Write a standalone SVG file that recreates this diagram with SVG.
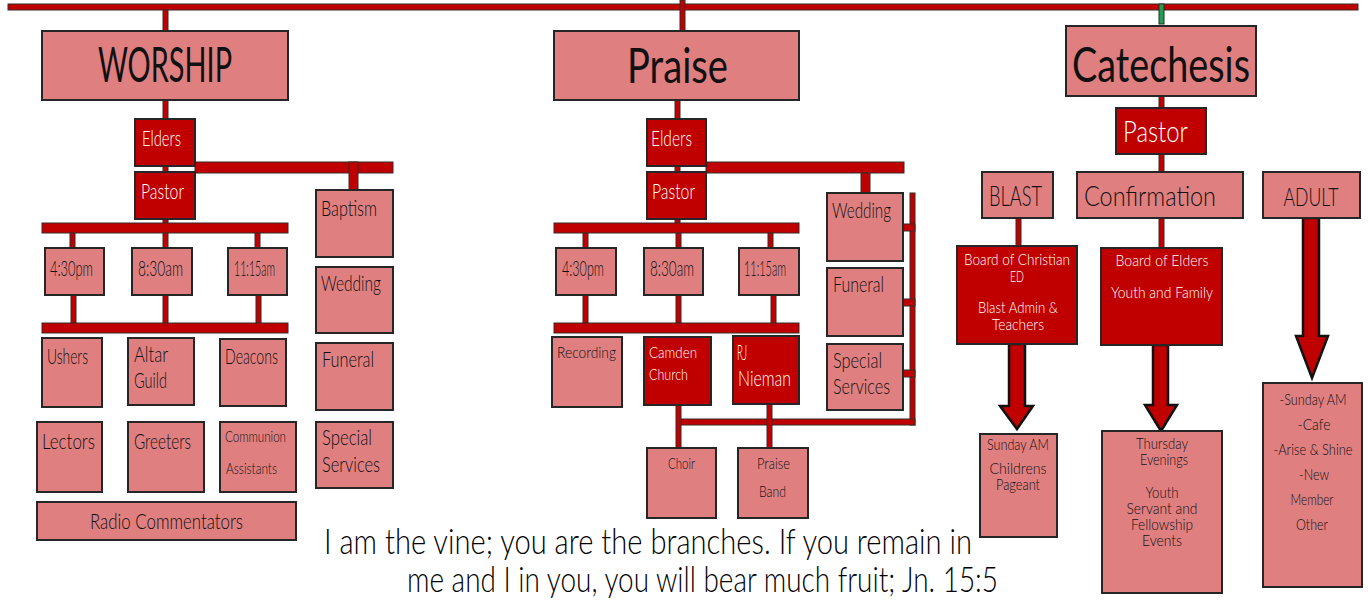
<svg xmlns="http://www.w3.org/2000/svg" width="1368" height="602" viewBox="0 0 1368 602">
<style>
.pink{fill:#df7f80;stroke:#262626;stroke-width:2}
.dark{fill:#c00000;stroke:#262626;stroke-width:2}
.bar{fill:#c00000;stroke:#3a2a2a;stroke-width:1}
.green{fill:#1fa050;stroke:#2a2a2a;stroke-width:1}
.arrow{fill:#c00000;stroke:#111;stroke-width:2.5;stroke-linejoin:miter}
text{font-family:'Lato','Liberation Sans',sans-serif;font-weight:300;fill:#111}
.t{font-size:22px}
.w{fill:#fff}
.s{font-size:16px}
.c{font-size:15px;text-anchor:middle}
.big{font-size:48px;font-weight:400}
.q{font-size:35px;fill:#000}
</style>
<rect width="1368" height="602" fill="#fff"/>
<g id="connectors">
<rect class="bar" x="8" y="4" width="1350" height="6"/>
<rect class="bar" x="163" y="10" width="5" height="21"/>
<rect class="bar" x="680" y="0" width="5" height="31"/>
<rect class="green" x="1159" y="4" width="5" height="20"/>
<rect class="bar" x="163" y="100" width="5" height="19"/>
<rect class="bar" x="163" y="166" width="5" height="6"/>
<rect class="bar" x="163" y="219" width="5" height="4"/>
<rect class="bar" x="195" y="162" width="198" height="11"/>
<rect class="bar" x="349" y="162" width="9" height="28"/>
<rect class="bar" x="42" y="223" width="246" height="10"/>
<rect class="bar" x="70" y="233" width="5" height="15"/>
<rect class="bar" x="163" y="233" width="5" height="15"/>
<rect class="bar" x="255" y="233" width="5" height="15"/>
<rect class="bar" x="71" y="295" width="5" height="28"/>
<rect class="bar" x="163" y="295" width="5" height="28"/>
<rect class="bar" x="256" y="295" width="5" height="28"/>
<rect class="bar" x="42" y="323" width="246" height="10"/>
<rect class="bar" x="675" y="100" width="5" height="19"/>
<rect class="bar" x="675" y="166" width="5" height="6"/>
<rect class="bar" x="675" y="219" width="5" height="4"/>
<rect class="bar" x="706" y="162" width="198" height="11"/>
<rect class="bar" x="861" y="173" width="9" height="20"/>
<rect class="bar" x="554" y="223" width="245" height="10"/>
<rect class="bar" x="583" y="233" width="5" height="15"/>
<rect class="bar" x="676" y="233" width="5" height="15"/>
<rect class="bar" x="768" y="233" width="5" height="15"/>
<rect class="bar" x="583" y="295" width="5" height="28"/>
<rect class="bar" x="676" y="295" width="5" height="28"/>
<rect class="bar" x="771" y="295" width="5" height="28"/>
<rect class="bar" x="554" y="323" width="245" height="10"/>
<rect class="bar" x="910" y="193" width="5" height="232"/>
<rect class="bar" x="899" y="224" width="16" height="7"/>
<rect class="bar" x="899" y="299" width="16" height="7"/>
<rect class="bar" x="899" y="370" width="16" height="7"/>
<rect class="bar" x="677" y="419" width="238" height="6"/>
<rect class="bar" x="676" y="405" width="5" height="43"/>
<rect class="bar" x="767" y="404" width="5" height="44"/>
<rect class="bar" x="1159" y="96" width="5" height="12"/>
<rect class="bar" x="1159" y="154" width="5" height="18"/>
<rect class="bar" x="1159" y="218" width="5" height="30"/>
<rect class="bar" x="1016" y="218" width="5" height="28"/>
<polygon class="arrow" points="1009,344 1025,344 1025,406 1033,406 1017,429 1000,406 1009,406"/>
<polygon class="arrow" points="1153,345 1168,345 1168,405 1177,405 1161,431 1145,405 1153,405"/>
<polygon class="arrow" points="1303,218 1319,218 1319,336 1328,336 1312,378 1296,336 1303,336"/>
</g>
<g id="worship">
<rect class="pink" x="42" y="31" width="246" height="69"/>
<text class="big" x="98" y="82" lengthAdjust="spacingAndGlyphs" textLength="134">WORSHIP</text>
</g>
<g id="w-elders"><rect class="dark" x="135" y="119" width="60" height="47"/><text class="t w" x="142" y="146" lengthAdjust="spacingAndGlyphs" textLength="39">Elders</text></g>
<g id="w-pastor"><rect class="dark" x="135" y="172" width="60" height="47"/><text class="t w" x="141" y="199" lengthAdjust="spacingAndGlyphs" textLength="43">Pastor</text></g>
<g id="w-430"><rect class="pink" x="45" y="248" width="59" height="47"/><text class="t" x="50" y="276" lengthAdjust="spacingAndGlyphs" textLength="43">4:30pm</text></g>
<g id="w-830"><rect class="pink" x="132" y="248" width="60" height="47"/><text class="t" x="138" y="276" lengthAdjust="spacingAndGlyphs" textLength="45">8:30am</text></g>
<g id="w-1115"><rect class="pink" x="228" y="248" width="59" height="47"/><text class="t" x="234" y="276" lengthAdjust="spacingAndGlyphs" textLength="41">11:15am</text></g>
<g id="w-ushers"><rect class="pink" x="42" y="338" width="60" height="69"/><text class="t" x="47" y="364" lengthAdjust="spacingAndGlyphs" textLength="41">Ushers</text></g>
<g id="w-altar"><rect class="pink" x="128" y="338" width="66" height="67"/><text class="t" x="134" y="362" lengthAdjust="spacingAndGlyphs" textLength="34">Altar</text><text class="t" x="134" y="388" lengthAdjust="spacingAndGlyphs" textLength="33">Guild</text></g>
<g id="w-deacons"><rect class="pink" x="220" y="339" width="66" height="67"/><text class="t" x="225" y="364" lengthAdjust="spacingAndGlyphs" textLength="53">Deacons</text></g>
<g id="w-lectors"><rect class="pink" x="37" y="422" width="65" height="70"/><text class="t" x="42" y="449" lengthAdjust="spacingAndGlyphs" textLength="53">Lectors</text></g>
<g id="w-greeters"><rect class="pink" x="128" y="422" width="76" height="70"/><text class="t" x="134" y="449" lengthAdjust="spacingAndGlyphs" textLength="57">Greeters</text></g>
<g id="w-communion"><rect class="pink" x="220" y="422" width="76" height="70"/><text class="s" x="225" y="442" lengthAdjust="spacingAndGlyphs" textLength="61">Communion</text><text class="s" x="226" y="474" lengthAdjust="spacingAndGlyphs" textLength="51">Assistants</text></g>
<g id="w-radio"><rect class="pink" x="37" y="502" width="259" height="38"/><text class="t" x="90" y="529" lengthAdjust="spacingAndGlyphs" textLength="153">Radio Commentators</text></g>
<g id="w-baptism"><rect class="pink" x="316" y="190" width="77" height="67"/><text class="t" x="321" y="216" lengthAdjust="spacingAndGlyphs" textLength="56">Baptism</text></g>
<g id="w-wedding"><rect class="pink" x="316" y="267" width="77" height="66"/><text class="t" x="321" y="291" lengthAdjust="spacingAndGlyphs" textLength="60">Wedding</text></g>
<g id="w-funeral"><rect class="pink" x="316" y="343" width="77" height="67"/><text class="t" x="322" y="367" lengthAdjust="spacingAndGlyphs" textLength="52">Funeral</text></g>
<g id="w-special"><rect class="pink" x="316" y="422" width="77" height="66"/><text class="t" x="322" y="445" lengthAdjust="spacingAndGlyphs" textLength="50">Special</text><text class="t" x="322" y="472" lengthAdjust="spacingAndGlyphs" textLength="58">Services</text></g>

<g id="praise">
<rect class="pink" x="554" y="31" width="245" height="69"/>
<text class="big" x="627" y="83" lengthAdjust="spacingAndGlyphs" textLength="101">Praise</text>
</g>
<g id="p-elders"><rect class="dark" x="647" y="119" width="59" height="47"/><text class="t w" x="651" y="146" lengthAdjust="spacingAndGlyphs" textLength="41">Elders</text></g>
<g id="p-pastor"><rect class="dark" x="647" y="172" width="59" height="47"/><text class="t w" x="652" y="199" lengthAdjust="spacingAndGlyphs" textLength="43">Pastor</text></g>
<g id="p-430"><rect class="pink" x="556" y="248" width="60" height="47"/><text class="t" x="562" y="276" lengthAdjust="spacingAndGlyphs" textLength="42">4:30pm</text></g>
<g id="p-830"><rect class="pink" x="644" y="248" width="59" height="47"/><text class="t" x="650" y="276" lengthAdjust="spacingAndGlyphs" textLength="44">8:30am</text></g>
<g id="p-1115"><rect class="pink" x="739" y="248" width="60" height="47"/><text class="t" x="744" y="276" lengthAdjust="spacingAndGlyphs" textLength="42">11:15am</text></g>
<g id="p-recording"><rect class="pink" x="552" y="337" width="70" height="70"/><text class="s" x="557" y="358" lengthAdjust="spacingAndGlyphs" textLength="59">Recording</text></g>
<g id="p-camden"><rect class="dark" x="644" y="337" width="67" height="68"/><text class="s w" x="649" y="358" lengthAdjust="spacingAndGlyphs" textLength="48">Camden</text><text class="s w" x="649" y="380" lengthAdjust="spacingAndGlyphs" textLength="39">Church</text></g>
<g id="p-rj"><rect class="dark" x="733" y="336" width="66" height="68"/><text class="t w" x="737" y="360" lengthAdjust="spacingAndGlyphs" textLength="10">RJ</text><text class="t w" x="738" y="386" lengthAdjust="spacingAndGlyphs" textLength="53">Nieman</text></g>
<g id="p-choir"><rect class="pink" x="647" y="448" width="69" height="70"/><text class="s" x="668" y="469" lengthAdjust="spacingAndGlyphs" textLength="27">Choir</text></g>
<g id="p-band"><rect class="pink" x="738" y="448" width="70" height="70"/><text class="s" x="757" y="469" lengthAdjust="spacingAndGlyphs" textLength="33">Praise</text><text class="s" x="759" y="497" lengthAdjust="spacingAndGlyphs" textLength="27">Band</text></g>
<g id="p-wedding"><rect class="pink" x="827" y="193" width="76" height="68"/><text class="t" x="832" y="218" lengthAdjust="spacingAndGlyphs" textLength="59">Wedding</text></g>
<g id="p-funeral"><rect class="pink" x="827" y="268" width="76" height="68"/><text class="t" x="833" y="292" lengthAdjust="spacingAndGlyphs" textLength="51">Funeral</text></g>
<g id="p-special"><rect class="pink" x="827" y="344" width="76" height="66"/><text class="t" x="833" y="368" lengthAdjust="spacingAndGlyphs" textLength="49">Special</text><text class="t" x="833" y="394" lengthAdjust="spacingAndGlyphs" textLength="57">Services</text></g>

<g id="catechesis">
<rect class="pink" x="1066" y="26" width="190" height="70"/>
<text class="big" x="1072" y="82" lengthAdjust="spacingAndGlyphs" textLength="178">Catechesis</text>
</g>
<g id="c-pastor"><rect class="dark" x="1116" y="108" width="90" height="46"/><text class="w" style="font-size:30px" x="1123" y="142" lengthAdjust="spacingAndGlyphs" textLength="65">Pastor</text></g>
<g id="c-blast"><rect class="pink" x="982" y="172" width="71" height="46"/><text style="font-size:27px" x="989" y="206" lengthAdjust="spacingAndGlyphs" textLength="53">BLAST</text></g>
<g id="c-confirmation"><rect class="pink" x="1077" y="172" width="166" height="46"/><text style="font-size:28px" x="1084" y="206" lengthAdjust="spacingAndGlyphs" textLength="132">Confirmation</text></g>
<g id="c-adult"><rect class="pink" x="1263" y="172" width="97" height="46"/><text style="font-size:26px;text-anchor:middle" x="1311" y="206" lengthAdjust="spacingAndGlyphs" textLength="55">ADULT</text></g>
<g id="c-board-ced"><rect class="dark" x="957" y="246" width="120" height="98"/>
<text class="c w" x="1017" y="265" lengthAdjust="spacingAndGlyphs" textLength="106">Board of Christian</text>
<text class="c w" x="1017" y="282" lengthAdjust="spacingAndGlyphs" textLength="14">ED</text>
<text class="c w" x="1018" y="313" lengthAdjust="spacingAndGlyphs" textLength="80">Blast Admin &amp;</text>
<text class="c w" x="1018" y="330" lengthAdjust="spacingAndGlyphs" textLength="52">Teachers</text></g>
<g id="c-board-elders"><rect class="dark" x="1101" y="248" width="121" height="97"/>
<text class="c w" x="1162" y="266" lengthAdjust="spacingAndGlyphs" textLength="93">Board of Elders</text>
<text class="c w" x="1162" y="298" lengthAdjust="spacingAndGlyphs" textLength="102">Youth and Family</text></g>
<g id="c-sunday"><rect class="pink" x="980" y="434" width="77" height="103"/>
<text class="c" x="1018" y="450" lengthAdjust="spacingAndGlyphs" textLength="62">Sunday AM</text>
<text class="c" x="1018" y="474" lengthAdjust="spacingAndGlyphs" textLength="57">Childrens</text>
<text class="c" x="1018" y="490" lengthAdjust="spacingAndGlyphs" textLength="44">Pageant</text></g>
<g id="c-thursday"><rect class="pink" x="1102" y="431" width="120" height="162"/>
<text class="c" x="1162" y="449" lengthAdjust="spacingAndGlyphs" textLength="52">Thursday</text>
<text class="c" x="1164" y="465" lengthAdjust="spacingAndGlyphs" textLength="48">Evenings</text>
<text class="c" x="1162" y="498" lengthAdjust="spacingAndGlyphs" textLength="33">Youth</text>
<text class="c" x="1162" y="514" lengthAdjust="spacingAndGlyphs" textLength="71">Servant and</text>
<text class="c" x="1162" y="530" lengthAdjust="spacingAndGlyphs" textLength="62">Fellowship</text>
<text class="c" x="1162" y="546" lengthAdjust="spacingAndGlyphs" textLength="40">Events</text></g>
<g id="c-adult-list"><rect class="pink" x="1263" y="383" width="99" height="204"/>
<text class="c" x="1313" y="405" lengthAdjust="spacingAndGlyphs" textLength="67">-Sunday AM</text>
<text class="c" x="1314" y="430" lengthAdjust="spacingAndGlyphs" textLength="33">-Cafe</text>
<text class="c" x="1313" y="455" lengthAdjust="spacingAndGlyphs" textLength="79">-Arise &amp; Shine</text>
<text class="c" x="1314" y="480" lengthAdjust="spacingAndGlyphs" textLength="30">-New</text>
<text class="c" x="1312" y="505" lengthAdjust="spacingAndGlyphs" textLength="43">Member</text>
<text class="c" x="1312" y="530" lengthAdjust="spacingAndGlyphs" textLength="32">Other</text></g>

<g id="quote">
<text class="q" x="324" y="554" lengthAdjust="spacingAndGlyphs" textLength="648">I am the vine; you are the branches. If you remain in</text>
<text class="q" x="407" y="592" lengthAdjust="spacingAndGlyphs" textLength="591">me and I in you, you will bear much fruit; Jn. 15:5</text>
</g>
</svg>
